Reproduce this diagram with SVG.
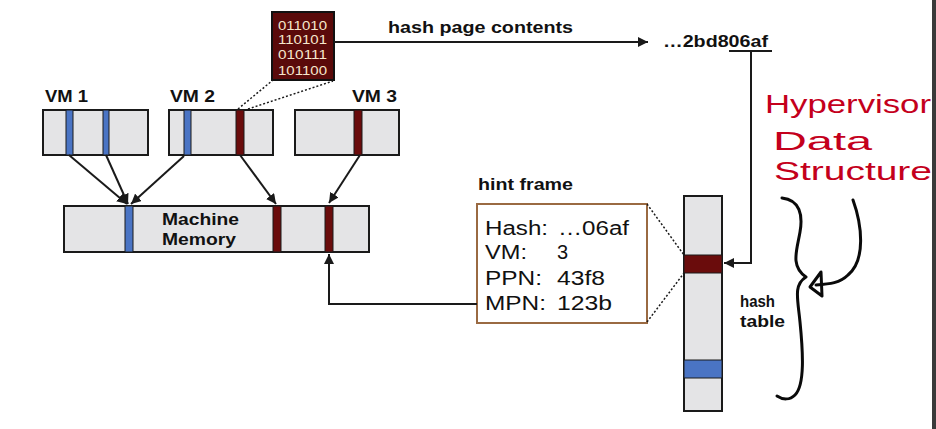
<svg xmlns="http://www.w3.org/2000/svg" width="936" height="429" viewBox="0 0 936 429">
<defs>
<style>
.box{fill:#e4e4e6;stroke:#1a1a1a;stroke-width:2}
.blue{fill:#4a74c4;stroke:#1a1a1a;stroke-width:1}
.red{fill:#6a0c0c;stroke:#1a1a1a;stroke-width:1}
.lbl{font-family:"Liberation Sans",Arial,sans-serif;font-weight:bold;font-size:16px;fill:#111}
.hint{font-family:"Liberation Sans",Arial,sans-serif;font-size:20px;fill:#111}
.bin{font-family:"Liberation Sans",Arial,sans-serif;font-size:13px;fill:#f6e7cc}
.hand{font-family:"Liberation Sans",Arial,sans-serif;font-size:26px;fill:#c4001c}
.conn{stroke:#1a1a1a;stroke-width:2;fill:none}
.dot{stroke:#1a1a1a;stroke-width:1.5;fill:none;stroke-dasharray:2 2}
.ink{stroke:#0a0a0a;stroke-width:3;fill:none;stroke-linecap:round;stroke-linejoin:round}
</style>
<marker id="ah" viewBox="0 0 10 10" refX="10" refY="5" markerWidth="5" markerHeight="5" orient="auto-start-reverse" markerUnits="strokeWidth">
<path d="M0,0 L10,5 L0,10 Z" fill="#1a1a1a"/>
</marker>
</defs>
<rect width="936" height="429" fill="#ffffff"/>
<rect x="932" y="0" width="4" height="429" fill="#3a3a3a"/>

<g id="vm1">
<text class="lbl" x="45" y="102" textLength="43" lengthAdjust="spacingAndGlyphs">VM 1</text>
<rect class="box" x="43" y="110" width="105" height="45"/>
<rect class="blue" x="66" y="110" width="7" height="45"/>
<rect class="blue" x="103" y="110" width="6" height="45"/>
</g>
<g id="vm2">
<text class="lbl" x="170" y="102" textLength="45" lengthAdjust="spacingAndGlyphs">VM 2</text>
<rect class="box" x="169" y="110" width="104" height="45"/>
<rect class="blue" x="184" y="110" width="7" height="45"/>
<rect class="red" x="236" y="110" width="8" height="45"/>
</g>
<g id="vm3">
<text class="lbl" x="352" y="102" textLength="45" lengthAdjust="spacingAndGlyphs">VM 3</text>
<rect class="box" x="295" y="110" width="104" height="45"/>
<rect class="red" x="354" y="110" width="8" height="45"/>
</g>
<g id="machine-memory">
<rect class="box" x="64" y="206" width="305" height="46"/>
<rect class="blue" x="125" y="206" width="8" height="46"/>
<rect class="red" x="273" y="206" width="8" height="46"/>
<rect class="red" x="325" y="206" width="8" height="46"/>
<text class="lbl" x="162" y="225" font-size="17" textLength="77" lengthAdjust="spacingAndGlyphs">Machine</text>
<text class="lbl" x="162" y="245" font-size="17" textLength="74" lengthAdjust="spacingAndGlyphs">Memory</text>
</g>
<g id="page-contents">
<rect x="272" y="12" width="62" height="68" fill="#5a0a0a" stroke="#111" stroke-width="2"/>
<text class="bin" x="278" y="30" textLength="49" lengthAdjust="spacingAndGlyphs">011010</text>
<text class="bin" x="278" y="44" textLength="49" lengthAdjust="spacingAndGlyphs">110101</text>
<text class="bin" x="278" y="59" textLength="49" lengthAdjust="spacingAndGlyphs">010111</text>
<text class="bin" x="278" y="75" textLength="49" lengthAdjust="spacingAndGlyphs">101100</text>
</g>
<g id="hash-value">
<text class="lbl" x="663" y="47" textLength="105" lengthAdjust="spacingAndGlyphs">…2bd806af</text>
</g>
<g id="hint-frame">
<text class="lbl" x="478" y="190" textLength="95" lengthAdjust="spacingAndGlyphs">hint frame</text>
<rect x="477" y="204" width="170" height="119" fill="#ffffff" stroke="#9a6a42" stroke-width="2"/>
<text class="hint" x="485" y="235" textLength="63" lengthAdjust="spacingAndGlyphs">Hash:</text>
<text class="hint" x="558" y="235" textLength="71" lengthAdjust="spacingAndGlyphs">…06af</text>
<text class="hint" x="485" y="259" textLength="42" lengthAdjust="spacingAndGlyphs">VM:</text>
<text class="hint" x="557" y="259">3</text>
<text class="hint" x="485" y="285" textLength="57" lengthAdjust="spacingAndGlyphs">PPN:</text>
<text class="hint" x="557" y="285" textLength="48" lengthAdjust="spacingAndGlyphs">43f8</text>
<text class="hint" x="485" y="310" textLength="61" lengthAdjust="spacingAndGlyphs">MPN:</text>
<text class="hint" x="557" y="310" textLength="55" lengthAdjust="spacingAndGlyphs">123b</text>
</g>
<g id="hash-table">
<rect class="box" x="684" y="196" width="38" height="215"/>
<rect class="red" x="684" y="255" width="38" height="18"/>
<rect class="blue" x="684" y="360" width="38" height="18"/>
<text class="lbl" x="740" y="307" textLength="35" lengthAdjust="spacingAndGlyphs">hash</text>
<text class="lbl" x="740" y="327" textLength="45" lengthAdjust="spacingAndGlyphs">table</text>
</g>
<g id="annotation">
<text class="hand" x="765" y="113" textLength="166" lengthAdjust="spacingAndGlyphs">Hypervisor</text>
<text class="hand" x="773" y="150" textLength="99" lengthAdjust="spacingAndGlyphs">Data</text>
<text class="hand" x="774" y="180" textLength="158" lengthAdjust="spacingAndGlyphs">Structure</text>
<path class="ink" d="M782,198 C800,200 803,215 800,232 C797,250 790,266 806,277 C793,285 798,300 800,322 C803,352 805,385 795,395 C790,400 783,400 777,396"/>
<path class="ink" d="M853,200 C862,225 866,260 848,275 C840,283 830,284 816,285"/>
<path class="ink" d="M821,272 L810,287 L822,296 Z"/>
</g>
<g id="connectors">
<line class="conn" x1="69" y1="155" x2="127" y2="204" marker-end="url(#ah)"/>
<line class="conn" x1="106" y1="155" x2="128" y2="204" marker-end="url(#ah)"/>
<line class="conn" x1="184" y1="156" x2="131" y2="204" marker-end="url(#ah)"/>
<line class="conn" x1="240" y1="155" x2="276" y2="204" marker-end="url(#ah)"/>
<line class="conn" x1="360" y1="155" x2="329" y2="203" marker-end="url(#ah)"/>
<line class="conn" x1="334" y1="42" x2="648" y2="42" marker-end="url(#ah)"/>
<text class="lbl" x="388" y="33" textLength="185" lengthAdjust="spacingAndGlyphs">hash page contents</text>
<line class="conn" x1="729" y1="51" x2="772" y2="51"/>
<polyline class="conn" points="751,51 751,263 724,263" marker-end="url(#ah)"/>
<polyline class="conn" points="477,304 329,304 329,254" marker-end="url(#ah)"/>
<line class="dot" x1="238" y1="109" x2="273" y2="80"/>
<line class="dot" x1="248" y1="109" x2="333" y2="81"/>
<line class="dot" x1="647" y1="204" x2="684" y2="255"/>
<line class="dot" x1="647" y1="322" x2="684" y2="273"/>
</g>
</svg>
